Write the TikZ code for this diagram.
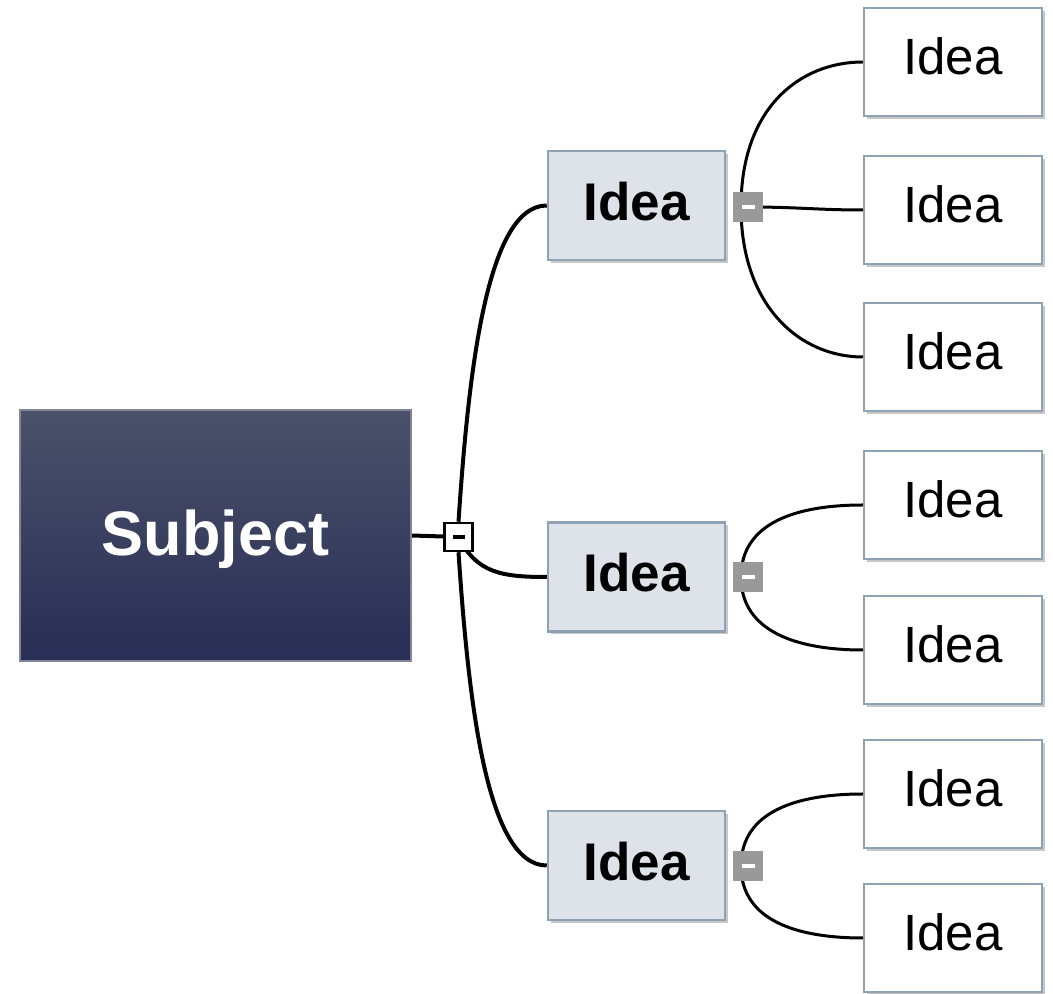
\documentclass[tikz,border=0pt]{standalone}
\usepackage{fontspec}
\setmainfont{Liberation Sans}
\usetikzlibrary{shadows,backgrounds}
\definecolor{subjtop}{HTML}{4B5169}
\definecolor{subjbot}{HTML}{282E55}
\definecolor{ideafill}{HTML}{DDE3E8}
\definecolor{boxedge}{HTML}{8FA2B3}
\definecolor{knobgrey}{HTML}{999999}
\tikzset{
  subjectbox/.style={rectangle, draw=subjtop!70!white, line width=1.5pt,
    top color=subjtop, bottom color=subjbot,
    minimum width=391pt, minimum height=251pt, inner sep=0pt, text depth=6pt,
    text=white, font=\fontsize{63}{70}\selectfont\bfseries},
  ideabox/.style={rectangle, draw=boxedge, line width=2.5pt, fill=ideafill,
    minimum width=177pt, minimum height=109pt, inner sep=0pt, text depth=9pt,
    drop shadow={shadow xshift=3pt, shadow yshift=-3pt, fill=black!22, opacity=1},
    font=\fontsize{53}{60}\selectfont\bfseries},
  leafbox/.style={rectangle, draw=boxedge, line width=2.5pt, fill=white,
    minimum width=178pt, minimum height=108pt, inner sep=0pt, text depth=11pt,
    drop shadow={shadow xshift=3pt, shadow yshift=-3pt, fill=black!22, opacity=1},
    font=\fontsize{51}{58}\selectfont},
  rootknob/.style={rectangle, draw=black, line width=2.5pt, fill=white,
    minimum size=28pt, inner sep=0pt,
    path picture={\fill[black] ([xshift=-6pt,yshift=-2pt]path picture bounding box.center) rectangle ++(12pt,4pt);}},
  knob/.style={rectangle, fill=knobgrey, minimum size=30pt, inner sep=0pt,
    path picture={\fill[white] ([xshift=-6.5pt,yshift=-2pt]path picture bounding box.center) rectangle ++(13pt,4pt);}},
  mainlink/.style={line width=4pt, black},
  sublink/.style={line width=3pt, black},
}
\begin{document}
\begin{tikzpicture}[x=1pt,y=1pt]
\useasboundingbox (0,0) rectangle (1053,994);

% central topic and its collapse knob
\node[subjectbox] (subj) at (215.5,458.5) {Subject};
\node[rootknob] (c0) at (458.5,457) {};

% main ideas
\node[ideabox] (i1) at (636.5,788.5) {Idea};
\node[ideabox] (i2) at (636.5,417) {Idea};
\node[ideabox] (i3) at (636.5,128.5) {Idea};

% collapse knobs of the main ideas
\node[knob] (g1) at (748,787) {};
\node[knob] (g2) at (748,417) {};
\node[knob] (g3) at (748,128) {};

% sub ideas
\node[leafbox] (l1) at (953,932) {Idea};
\node[leafbox] (l2) at (953,784) {Idea};
\node[leafbox] (l3) at (953,637) {Idea};
\node[leafbox] (l4) at (953,489) {Idea};
\node[leafbox] (l5) at (953,344) {Idea};
\node[leafbox] (l6) at (953,200) {Idea};
\node[leafbox] (l7) at (953,56) {Idea};

\begin{scope}[on background layer]
  % branches from the central topic
  \draw[mainlink] (subj.east) -- (c0.center);
  \draw[mainlink] (c0.north) .. controls +(10,150) and +(-60,0) .. (i1.west);
  \draw[mainlink] (c0.center) .. controls +(18,-36) and +(-45,0) .. (i2.west);
  \draw[mainlink] (c0.south) .. controls +(10,-150) and +(-60,0) .. (i3.west);

  % branches of the first idea
  \draw[sublink] ([xshift=-7pt]g1.center) .. controls +(0,100) and +(-62,0) .. (l1.west);
  \draw[sublink] (g1.center) .. controls +(50,0) and +(-45,0) .. (l2.west);
  \draw[sublink] ([xshift=-7pt]g1.center) .. controls +(0,-100) and +(-62,0) .. (l3.west);

  % branches of the second idea
  \draw[sublink] ([xshift=-7pt]g2.center) .. controls +(0,55) and +(-65,0) .. (l4.west);
  \draw[sublink] ([xshift=-7pt]g2.center) .. controls +(0,-55) and +(-65,0) .. (l5.west);

  % branches of the third idea
  \draw[sublink] ([xshift=-7pt]g3.center) .. controls +(0,55) and +(-65,0) .. (l6.west);
  \draw[sublink] ([xshift=-7pt]g3.center) .. controls +(0,-55) and +(-65,0) .. (l7.west);
\end{scope}
\end{tikzpicture}
\end{document}
